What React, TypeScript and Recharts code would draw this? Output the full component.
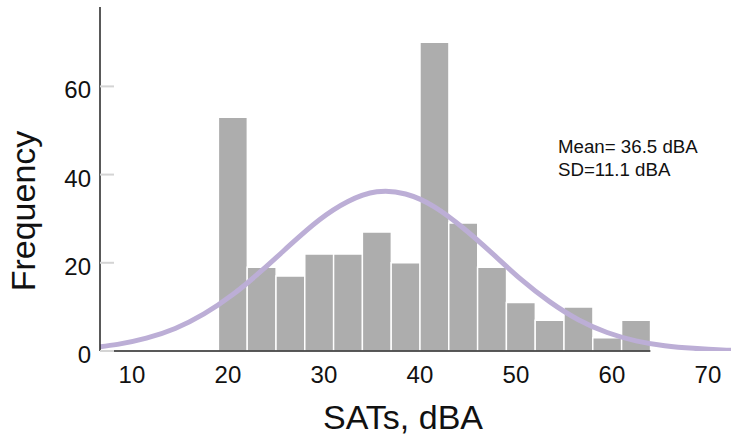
import React from "react";
import { ComposedChart, Bar, Line, XAxis, YAxis, ReferenceLine } from "recharts";

// histogram bins (3 dBA wide), centres and counts
const binCenters = [20.5, 23.5, 26.5, 29.5, 32.5, 35.5, 38.5, 41.5, 44.5, 47.5, 50.5, 53.5, 56.5, 59.5, 62.5];
const counts = [53, 19, 17, 22, 22, 27, 20, 70, 29, 19, 11, 7, 10, 3, 7];

// fitted normal curve, sampled on the same 3 dBA grid
const curveX = [5.5, 8.5, 11.5, 14.5, 17.5, 20.5, 23.5, 26.5, 29.5, 32.5, 35.5, 38.5, 41.5, 44.5, 47.5, 50.5, 53.5, 56.5, 59.5, 62.5, 65.5, 68.5, 71.5, 74.5];
const curveY = [0.7, 1.5, 2.9, 5.1, 8.4, 12.8, 18.2, 24.1, 29.7, 33.9, 36.1, 35.6, 32.7, 27.9, 22.2, 16.3, 11.2, 7.1, 4.2, 2.3, 1.2, 0.6, 0.25, 0.1];

const xTicks = [10, 20, 30, 40, 50, 60, 70];
const yTicks = [0, 20, 40, 60];
const xDomain: [number, number] = [6.67, 72.4];
const yDomain: [number, number] = [0, 78];

const statsLines = ["Mean= 36.5 dBA", "SD=11.1 dBA"];

const font = '"Liberation Sans", Arial, sans-serif';

const data = curveX.map((x, i) => {
  const k = binCenters.indexOf(x);
  return { x, count: k >= 0 ? counts[k] : null, fit: curveY[i] };
});

const binEdgeMax = binCenters[binCenters.length - 1] + 1.5;

const YTick = (props: any) => {
  const { x, y, payload } = props;
  return (
    <g>
      <line x1={x + 9} x2={x + 23} y1={y} y2={y} stroke="#d4d4d4" strokeWidth={2} />
      <text x={x} y={y} dy={12} textAnchor="end" fontSize={24} fontFamily={font} fill="#111">
        {payload.value}
      </text>
    </g>
  );
};

const YTitle = () => (
  <text
    x={35}
    y={211}
    transform="rotate(-90 35 211)"
    textAnchor="middle"
    fontSize={34}
    fontFamily={font}
    fill="#111"
  >
    Frequency
  </text>
);

const XTitle = () => (
  <text x={403} y={429} textAnchor="middle" fontSize={34} fontFamily={font} fill="#111">
    SATs, dBA
  </text>
);

export default function App() {
  return (
    <div style={{ position: "absolute", left: 0, top: 0, width: 731, height: 441, background: "#fff" }}>
      <ComposedChart
        width={731}
        height={441}
        data={data}
        margin={{ top: 7, right: 0, bottom: 0, left: 0 }}
        barCategoryGap={0}
        barGap={0}
      >
        <XAxis
          dataKey="x"
          type="number"
          domain={xDomain}
          allowDataOverflow
          ticks={xTicks}
          height={90}
          tickSize={0}
          tickMargin={15}
          tickLine={false}
          axisLine={false}
          tick={{ fontSize: 24, fontFamily: font, fill: "#111" }}
          label={<XTitle />}
        />
        <YAxis
          type="number"
          domain={yDomain}
          allowDataOverflow
          ticks={yTicks}
          width={100}
          tickSize={0}
          tickMargin={9}
          tickLine={false}
          axisLine={{ stroke: "#222", strokeWidth: 1.5 }}
          tick={<YTick />}
          label={<YTitle />}
        />
        <Bar dataKey="count" fill="#adadad" stroke="#ffffff" strokeWidth={1.5} isAnimationActive={false} />
        <ReferenceLine
          segment={[
            { x: xDomain[0], y: 0 },
            { x: binEdgeMax, y: 0 },
          ]}
          stroke="#222"
          strokeWidth={1.5}
          ifOverflow="visible"
        />
        <Line
          dataKey="fit"
          type="natural"
          stroke="#bcaed6"
          strokeWidth={5}
          dot={false}
          activeDot={false}
          isAnimationActive={false}
        />
      </ComposedChart>
      <div
        style={{
          position: "absolute",
          left: 558,
          top: 135,
          fontFamily: font,
          fontSize: 18.7,
          lineHeight: "23px",
          color: "#111",
          whiteSpace: "nowrap",
        }}
      >
        {statsLines.map((s) => (
          <div key={s}>{s}</div>
        ))}
      </div>
    </div>
  );
}
